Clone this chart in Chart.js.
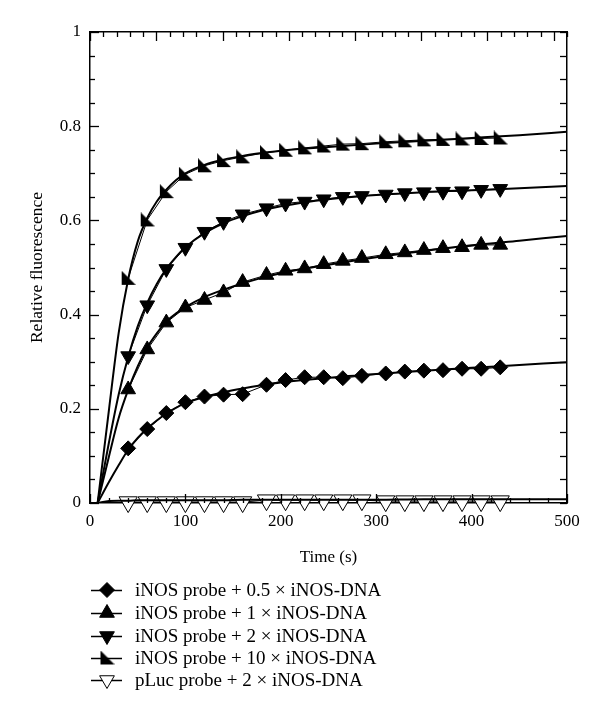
<!DOCTYPE html>
<html>
<head>
<meta charset="utf-8">
<script src="https://cdn.jsdelivr.net/npm/chart.js@4/dist/chart.umd.min.js"></script>
<style>
  html, body { margin: 0; padding: 0; background: #fff; }
  #wrap { width: 600px; height: 722px; }
</style>
</head>
<body>
<div id="wrap"><canvas id="myChart" width="600" height="722"></canvas></div>
<script>
// measured time points (s)
const times = [40, 60, 80, 100, 120, 140, 160, 185, 205, 225, 245, 265, 285, 310, 330, 350, 370, 390, 410, 430];

// relative fluorescence
const probe05 = [0.116, 0.157, 0.191, 0.214, 0.226, 0.230, 0.231, 0.251, 0.261, 0.267, 0.267, 0.265, 0.270, 0.275, 0.279, 0.281, 0.282, 0.285, 0.285, 0.288];
const probe1 = [0.241, 0.326, 0.383, 0.415, 0.431, 0.447, 0.469, 0.484, 0.493, 0.498, 0.507, 0.514, 0.520, 0.528, 0.532, 0.537, 0.541, 0.543, 0.548, 0.548];
const probe2 = [0.312, 0.420, 0.497, 0.542, 0.576, 0.597, 0.613, 0.626, 0.636, 0.640, 0.645, 0.650, 0.652, 0.655, 0.658, 0.660, 0.661, 0.662, 0.665, 0.667];
const probe10 = [0.477, 0.601, 0.661, 0.698, 0.716, 0.727, 0.735, 0.744, 0.749, 0.754, 0.758, 0.762, 0.763, 0.767, 0.769, 0.771, 0.772, 0.773, 0.774, 0.775];
const plucProbe = [0.002, 0.002, 0.002, 0.002, 0.002, 0.002, 0.002, 0.006, 0.006, 0.006, 0.006, 0.006, 0.006, 0.004, 0.004, 0.004, 0.004, 0.004, 0.004, 0.004];

// fitted curves
const fitTimes = [8, 20, 30, 40, 50, 60, 70, 80, 90, 100, 120, 140, 160, 180, 200, 250, 300, 350, 400, 450, 500];
const fit05 = [0, 0.045, 0.080, 0.113, 0.138, 0.158, 0.175, 0.190, 0.202, 0.212, 0.225, 0.235, 0.243, 0.250, 0.256, 0.266, 0.274, 0.281, 0.287, 0.293, 0.299];
const fit1 = [0, 0.100, 0.180, 0.240, 0.290, 0.330, 0.360, 0.385, 0.402, 0.416, 0.437, 0.453, 0.466, 0.478, 0.488, 0.506, 0.522, 0.535, 0.547, 0.557, 0.567];
const fit2 = [0, 0.130, 0.230, 0.310, 0.375, 0.425, 0.465, 0.497, 0.522, 0.543, 0.573, 0.594, 0.609, 0.621, 0.630, 0.645, 0.654, 0.660, 0.664, 0.668, 0.673];
const fit10 = [0, 0.200, 0.360, 0.475, 0.555, 0.605, 0.640, 0.665, 0.685, 0.700, 0.718, 0.729, 0.737, 0.743, 0.748, 0.756, 0.763, 0.769, 0.775, 0.781, 0.788];
const fitPluc = [0, 0.004, 0.005, 0.005, 0.006, 0.006, 0.006, 0.006, 0.006, 0.006, 0.006, 0.006, 0.007, 0.007, 0.007, 0.007, 0.007, 0.008, 0.008, 0.008, 0.008];

const legendLabels = [
  'iNOS probe + 0.5 \u00d7 iNOS-DNA',
  'iNOS probe + 1 \u00d7 iNOS-DNA',
  'iNOS probe + 2 \u00d7 iNOS-DNA',
  'iNOS probe + 10 \u00d7 iNOS-DNA',
  'pLuc probe + 2 \u00d7 iNOS-DNA'
];

const FONT = '"Liberation Serif", "DejaVu Serif", serif';

// right-angled triangle marker for the 10x series
function makeCornerTriangle(size) {
  const c = document.createElement('canvas');
  c.width = size; c.height = size;
  const g = c.getContext('2d');
  g.fillStyle = '#000';
  g.beginPath();
  g.moveTo(1, 0);
  g.lineTo(1, size - 1);
  g.lineTo(size, size - 1);
  g.closePath();
  g.fill();
  return c;
}
const cornerTri = makeCornerTriangle(15);

function pts(xs, ys) {
  return xs.map((x, i) => ({ x: x, y: ys[i] }));
}

const markers = [
  { vals: probe05, style: 'rectRot', radius: 7.5, rot: 0, fill: '#000' },
  { vals: probe1, style: 'triangle', radius: 8.5, rot: 0, fill: '#000' },
  { vals: probe2, style: 'triangle', radius: 8.5, rot: 180, fill: '#000' },
  { vals: probe10, style: cornerTri, radius: 8, rot: 0, fill: '#000' },
  { vals: plucProbe, style: 'triangle', radius: 10.5, rot: 180, fill: '#fff' }
];
const fits = [fit05, fit1, fit2, fit10, fitPluc];

const datasets = [];
fits.forEach((f, i) => {
  datasets.push({
    label: legendLabels[i] + ' fit',
    data: pts(fitTimes, f),
    showLine: true,
    borderColor: '#000',
    borderWidth: 2,
    pointRadius: 0,
    cubicInterpolationMode: 'monotone'
  });
});
markers.forEach((m, i) => {
  datasets.push({
    label: legendLabels[i],
    data: pts(times, m.vals),
    showLine: true,
    clip: false,
    borderColor: '#000',
    borderWidth: 1,
    pointStyle: m.style,
    pointRadius: m.radius,
    pointRotation: m.rot,
    pointBackgroundColor: m.fill,
    pointBorderColor: '#000',
    pointBorderWidth: 1
  });
});

// inward tick marks on all four sides
const inwardTicks = {
  id: 'inwardTicks',
  afterDraw(chart) {
    const ctx = chart.ctx;
    const a = chart.chartArea;
    ctx.save();
    ctx.strokeStyle = '#000';
    ctx.lineWidth = 1.3;
    const sc = chart.scales;
    sc.x.ticks.forEach(t => {
      const px = Math.round(sc.x.getPixelForValue(t.value)) + 0.5;
      const len = t.value % 100 === 0 ? 9 : 5;
      ctx.beginPath(); ctx.moveTo(px, a.bottom); ctx.lineTo(px, a.bottom - len); ctx.stroke();
    });
    sc.x2.ticks.forEach(t => {
      const px = Math.round(sc.x2.getPixelForValue(t.value)) + 0.5;
      const len = Math.abs(t.value - Math.round(t.value)) < 1e-6 ? 9 : 5;
      ctx.beginPath(); ctx.moveTo(px, a.top); ctx.lineTo(px, a.top + len); ctx.stroke();
    });
    sc.y.ticks.forEach(t => {
      const py = Math.round(sc.y.getPixelForValue(t.value)) + 0.5;
      const len = Math.abs(t.value * 5 - Math.round(t.value * 5)) < 1e-6 ? 9 : 5;
      ctx.beginPath(); ctx.moveTo(a.left, py); ctx.lineTo(a.left + len, py); ctx.stroke();
    });
    sc.y2.ticks.forEach(t => {
      const py = Math.round(sc.y2.getPixelForValue(t.value)) + 0.5;
      ctx.beginPath(); ctx.moveTo(a.right, py); ctx.lineTo(a.right - 7, py); ctx.stroke();
    });
    ctx.restore();
  }
};

// legend drawn below the plot, one entry per row
function drawMarker(ctx, i, x, y) {
  const m = markers[i];
  ctx.fillStyle = m.fill;
  ctx.strokeStyle = '#000';
  ctx.lineWidth = 1;
  if (typeof m.style !== 'string') {
    ctx.drawImage(m.style, x - m.style.width / 2, y - m.style.height / 2);
    return;
  }
  const r = Math.min(m.radius, 8.5);
  ctx.beginPath();
  if (m.style === 'rectRot') {
    ctx.moveTo(x, y - r); ctx.lineTo(x + r, y); ctx.lineTo(x, y + r); ctx.lineTo(x - r, y);
  } else {
    const dir = m.rot === 180 ? -1 : 1;
    const h = r * 0.866;
    ctx.moveTo(x, y - dir * r);
    ctx.lineTo(x + h, y + dir * r / 2);
    ctx.lineTo(x - h, y + dir * r / 2);
  }
  ctx.closePath();
  ctx.fill();
  ctx.stroke();
}

const bottomLegend = {
  id: 'bottomLegend',
  afterDraw(chart) {
    const ctx = chart.ctx;
    ctx.save();
    const rowY = [590, 613, 636, 658, 680];
    legendLabels.forEach((lab, i) => {
      const y = rowY[i];
      ctx.strokeStyle = '#000';
      ctx.lineWidth = 1.5;
      ctx.beginPath(); ctx.moveTo(91, y + 0.5); ctx.lineTo(122, y + 0.5); ctx.stroke();
      drawMarker(ctx, i, 107, y);
      ctx.fillStyle = '#000';
      ctx.font = '19px ' + FONT;
      ctx.textBaseline = 'middle';
      ctx.textAlign = 'left';
      ctx.fillText(lab, 135, y + 1);
    });
    ctx.restore();
  }
};

new Chart(document.getElementById('myChart').getContext('2d'), {
  type: 'scatter',
  data: { datasets: datasets },
  options: {
    responsive: false,
    animation: false,
    layout: { padding: { left: 0, right: 33, top: 32, bottom: 150 } },
    plugins: { legend: { display: false }, tooltip: { enabled: false } },
    scales: {
      x: {
        type: 'linear', position: 'bottom', min: 0, max: 500,
        afterFit: s => { s.height = 69; },
        ticks: {
          stepSize: 20, autoSkip: false, maxRotation: 0, padding: 8,
          color: '#000', font: { family: FONT, size: 17 },
          callback: v => (v % 100 === 0 ? String(v) : '')
        },
        grid: { display: false, drawTicks: false },
        border: { display: true, color: '#000', width: 1.5 },
        title: { display: true, text: 'Time (s)', color: '#000', font: { family: FONT, size: 17 }, padding: { top: 6 } }
      },
      x2: {
        type: 'linear', position: 'top', min: 0, max: 7.2,
        afterFit: s => { s.height = 0; },
        ticks: { display: false, stepSize: 0.2, autoSkip: false },
        grid: { display: false, drawTicks: false },
        border: { display: true, color: '#000', width: 1.5 }
      },
      y: {
        type: 'linear', position: 'left', min: 0, max: 1,
        afterFit: s => { s.width = 90; },
        ticks: {
          stepSize: 0.05, autoSkip: false, padding: 9,
          color: '#000', font: { family: FONT, size: 17 },
          callback: v => {
            const r = Math.round(v * 100) / 100;
            return Math.abs(r * 5 - Math.round(r * 5)) < 1e-6 ? String(r) : '';
          }
        },
        grid: { display: false, drawTicks: false },
        border: { display: true, color: '#000', width: 1.5 },
        title: { display: true, text: 'Relative fluorescence', color: '#000', font: { family: FONT, size: 17.5 }, padding: { top: 27, bottom: 0 } }
      },
      y2: {
        type: 'linear', position: 'right', min: 0, max: 1,
        afterFit: s => { s.width = 0; },
        ticks: { display: false, stepSize: 0.05, autoSkip: false },
        grid: { display: false, drawTicks: false },
        border: { display: true, color: '#000', width: 1.5 }
      }
    }
  },
  plugins: [inwardTicks, bottomLegend]
});
</script>
</body>
</html>
